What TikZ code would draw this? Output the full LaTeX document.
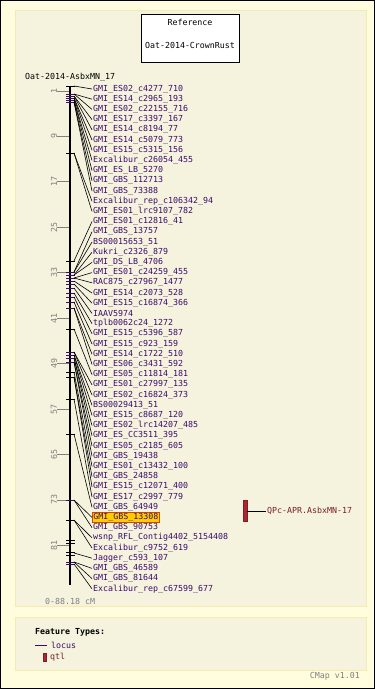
\documentclass[tikz,border=0pt]{standalone}
\usepackage{fontspec}
\setmainfont{DejaVu Sans Mono}
\setmonofont{DejaVu Sans Mono}
\definecolor{outerbg}{RGB}{255,253,222}
\definecolor{panelbg}{RGB}{245,243,221}
\definecolor{panelrim}{RGB}{242,236,176}
\definecolor{locuscol}{RGB}{58,10,110}
\definecolor{qtlcol}{RGB}{176,36,48}
\definecolor{qtltext}{RGB}{122,30,40}
\definecolor{hifill}{RGB}{255,204,0}
\definecolor{hirim}{RGB}{210,70,0}
\definecolor{scalegray}{RGB}{128,128,128}
\tikzset{
  txt/.style={font=\fontsize{8.3}{10}\selectfont, inner sep=1pt},
  locus/.style={txt, text=locuscol, anchor=west},
  link/.style={black, line width=0.6pt},
  ptick/.style={locuscol, line width=1pt},
  btick/.style={black, line width=0.8pt},
  sctick/.style={scalegray, line width=0.8pt},
  scnum/.style={txt, text=scalegray, rotate=90},
  panel/.style={fill=panelbg, draw=panelrim, line width=1pt}
}
\begin{document}
\begin{tikzpicture}[x=1pt,y=-1pt]
	\useasboundingbox (0,0) rectangle (375,689);
	\draw[fill=outerbg,draw=black,line width=1pt] (0.5,0.5) rectangle (374.5,688.5);
	\draw[panel] (15,10) rectangle (366,606);
	\draw[panel] (15,617) rectangle (366,670);

	% reference box
	\node[draw=black,fill=white,line width=0.8pt,minimum width=98pt,minimum height=48pt] (refbox) at (190,38) {};
	\node[txt] (reftitle) at (190,22) {Reference};
	\node[txt] (refname) at (190,45) {Oat-2014-CrownRust};
	\node[txt,anchor=west] (mapname) at (24,77) {Oat-2014-AsbxMN\_17};

	% scale
	\foreach \cm in {1,9,...,81}{
		\draw[sctick] (57,{85.3+\cm*5.68}) -- (70,{85.3+\cm*5.68});
		\node[scnum] (sc\cm) at (54,{85.3+\cm*5.68}) {\cm};
	}
	\node[txt,text=scalegray,anchor=west] (range) at (44,601) {0-88.18 cM};

	% chromosome bar
	\draw[black,line width=2.6pt] (70,86) -- (70,585);
	\foreach \y in {86,153,261,329,372,377,399,434,520,540,543,552,555}
		\draw[btick] (66,\y) -- (75,\y);
	\foreach \y in {94,96,98,100,102,272,275,278,281,284,288,293,297,302,308,352,355,358,362,500,562,564}
		\draw[ptick] (66,\y) -- (75,\y);

	% loci
	\foreach \i/\ym/\name in {1/86/GMI\_ES02\_c4277\_710, 2/94/GMI\_ES14\_c2965\_193,
		3/94/GMI\_ES02\_c22155\_716, 4/96/GMI\_ES17\_c3397\_167, 5/96/GMI\_ES14\_c8194\_77,
		6/98/GMI\_ES14\_c5079\_773, 7/98/GMI\_ES15\_c5315\_156, 8/100/Excalibur\_c26054\_455,
		9/100/GMI\_ES\_LB\_5270, 10/102/GMI\_GBS\_112713, 11/102/GMI\_GBS\_73388,
		12/153/Excalibur\_rep\_c106342\_94, 13/153/GMI\_ES01\_lrc9107\_782, 14/261/GMI\_ES01\_c12816\_41,
		15/272/GMI\_GBS\_13757, 16/272/BS00015653\_51, 17/275/Kukri\_c2326\_879,
		18/275/GMI\_DS\_LB\_4706, 19/278/GMI\_ES01\_c24259\_455, 20/278/RAC875\_c27967\_1477,
		21/281/GMI\_ES14\_c2073\_528, 22/284/GMI\_ES15\_c16874\_366, 23/288/IAAV5974,
		24/293/tplb0062c24\_1272, 25/297/GMI\_ES15\_c5396\_587, 26/302/GMI\_ES15\_c923\_159,
		27/308/GMI\_ES14\_c1722\_510, 28/308/GMI\_ES06\_c3431\_592, 29/329/GMI\_ES05\_c11814\_181,
		30/352/GMI\_ES01\_c27997\_135, 31/352/GMI\_ES02\_c16824\_373, 32/355/BS00029413\_51,
		33/355/GMI\_ES15\_c8687\_120, 34/358/GMI\_ES02\_lrc14207\_485, 35/358/GMI\_ES\_CC3511\_395,
		36/362/GMI\_ES05\_c2185\_605, 37/362/GMI\_GBS\_19438, 38/372/GMI\_ES01\_c13432\_100,
		39/377/GMI\_GBS\_24858, 40/377/GMI\_ES15\_c12071\_400, 41/399/GMI\_ES17\_c2997\_779,
		42/434/GMI\_GBS\_64949, 44/500/GMI\_GBS\_90753, 45/520/wsnp\_RFL\_Contig4402\_5154408,
		46/520/Excalibur\_c9752\_619, 47/553/Jagger\_c593\_107, 48/562/GMI\_GBS\_46589,
		49/562/GMI\_GBS\_81644, 50/564/Excalibur\_rep\_c67599\_677}{
		\coordinate (k\i) at (74,\ym);
		\node[locus] (m\i) at (92,{89+(\i-1)*10.2}) {\name};
		\draw[link] (k\i) -- (m\i.west);
	}
	\coordinate (k43) at (74,500);
	\node[locus,fill=hifill,draw=hirim,line width=0.8pt] (m43) at (92,{89+42*10.2}) {GMI\_GBS\_13308};
	\draw[link] (k43) -- (m43.west);

	% qtl
	\node[fill=qtlcol,draw=qtltext,line width=0.6pt,minimum width=4pt,minimum height=21pt,inner sep=0pt] (qtlbar) at (245,511) {};
	\node[txt,text=qtltext,anchor=west] (qtlname) at (266,511) {QPc-APR.AsbxMN-17};
	\draw[black,line width=0.7pt] (qtlbar.east) -- (qtlname.west);

	% legend
	\node[txt,anchor=west,font=\fontsize{8.3}{10}\selectfont\bfseries] (ftypes) at (34,632) {Feature Types:};
	\coordinate (lkey) at (35,645);
	\coordinate (lkeyend) at (47,645);
	\node[txt,text=locuscol,anchor=west] (lname) at (50,645) {locus};
	\draw[locuscol,line width=0.8pt] (lkey) -- (lkeyend);
	\node[fill=qtlcol,draw=qtltext,line width=0.5pt,minimum width=3pt,minimum height=8pt,inner sep=0pt] (qkey) at (44.5,657) {};
	\node[txt,text=qtltext,anchor=west] (qname) at (49,657) {qtl};
	\node[txt,text=scalegray,anchor=east] (version) at (361,676) {CMap v1.01};
\end{tikzpicture}
\end{document}
